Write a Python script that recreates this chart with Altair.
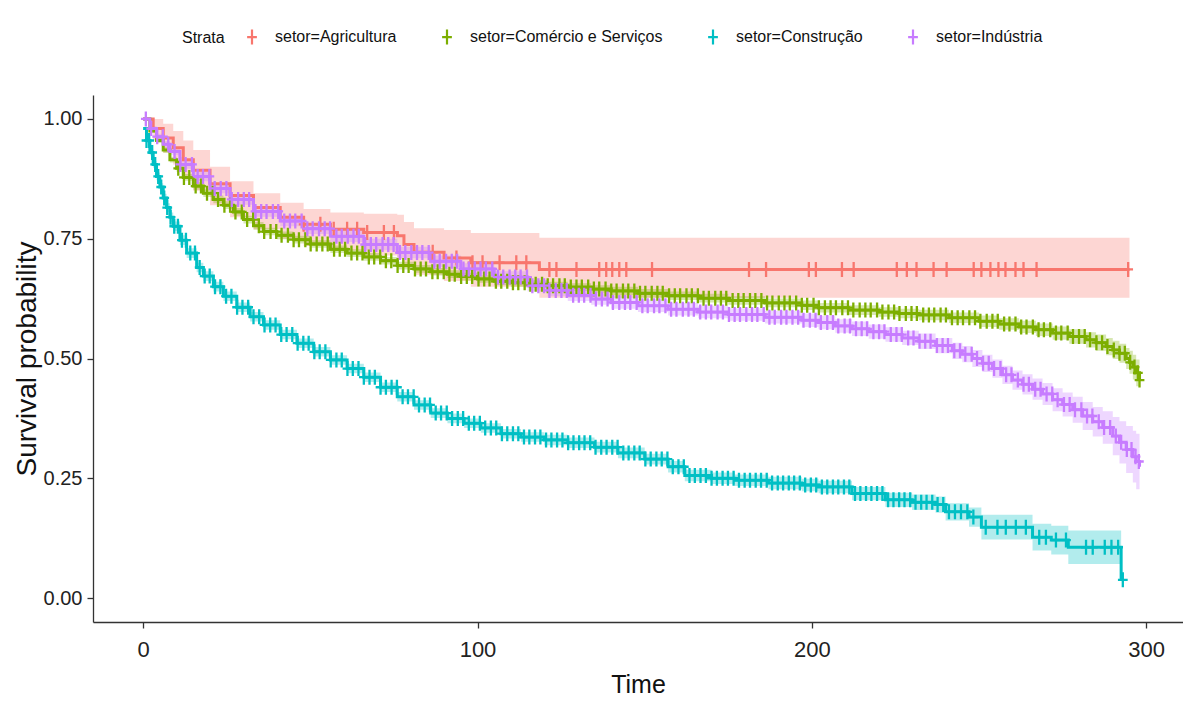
import altair as alt
import pandas as pd
import numpy as np

NAMES = ["setor=Agricultura", "setor=Comércio e Serviços", "setor=Construção", "setor=Indústria"]
COLORS = ["#F8766D", "#7CAE00", "#00BFC4", "#C77CFF"]

X_TICKS = [0, 100, 200, 300]
Y_TICKS = [0.0, 0.25, 0.5, 0.75, 1.0]

# --- Agricultura (red) ---
agri_t = [0, 3, 6, 9, 12, 15, 20, 26, 33, 41, 48, 56, 66, 76, 78, 81, 90, 98, 118.5, 295]
agri_s = [1.0, 0.98, 0.96, 0.94, 0.915, 0.893, 0.865, 0.84, 0.815, 0.795, 0.78, 0.77, 0.763, 0.756, 0.738, 0.722, 0.71, 0.70, 0.686, 0.686]
agri_hi = [1.0, 1.0, 0.99, 0.975, 0.955, 0.935, 0.9, 0.87, 0.845, 0.825, 0.812, 0.805, 0.802, 0.80, 0.785, 0.772, 0.768, 0.762, 0.752, 0.752]
agri_lo = [1.0, 0.955, 0.93, 0.905, 0.875, 0.85, 0.82, 0.795, 0.77, 0.75, 0.735, 0.725, 0.715, 0.707, 0.69, 0.675, 0.662, 0.65, 0.627, 0.627]
agri_cens = [48, 53, 57, 61, 64, 67, 72, 75, 86.6, 93.7, 98.5, 101.5, 106.6, 111.6, 114.6, 121.5, 123.6,
             129.6, 136.4, 138.5, 140.3, 142.4, 144.5, 152.2, 181.2, 186.3, 199.1, 201.2, 209, 212.5, 225.4,
             228.4, 231.3, 236.4, 240.3, 248.4, 250.7, 253.4, 255.8, 257.9, 260.9, 263.3, 267.2, 294.6]

# --- Comércio e Serviços (green) ---
com_t = [0, 2, 4, 6, 8, 10, 12, 15, 18, 21, 24, 27, 30, 33, 36, 40, 45, 50, 56, 61, 66, 71, 76, 81, 86, 91,
         95, 100, 105, 110, 115, 121, 127, 134, 140, 148, 157, 166, 175, 186, 197, 202, 211, 220, 226, 232,
         241, 250, 256, 262, 267, 272, 277, 282, 285, 288, 290, 292, 294, 295, 296, 297, 298]
com_s = [1.0, 0.975, 0.955, 0.935, 0.915, 0.897, 0.878, 0.86, 0.845, 0.832, 0.82, 0.806, 0.79, 0.777, 0.765,
         0.757, 0.748, 0.739, 0.728, 0.72, 0.712, 0.704, 0.694, 0.687, 0.681, 0.676, 0.671, 0.666, 0.661, 0.658,
         0.655, 0.652, 0.649, 0.645, 0.641, 0.636, 0.631, 0.626, 0.621, 0.616, 0.611, 0.606, 0.601, 0.597,
         0.594, 0.591, 0.585, 0.578, 0.572, 0.566, 0.56, 0.553, 0.546, 0.539, 0.533, 0.525, 0.518, 0.511, 0.5,
         0.492, 0.482, 0.47, 0.455]
com_ci = [0, 0.004, 0.005, 0.006, 0.006, 0.007, 0.007, 0.008, 0.008, 0.008, 0.008, 0.008, 0.008, 0.008, 0.008,
          0.008, 0.008, 0.008, 0.008, 0.008, 0.008, 0.008, 0.008, 0.008, 0.008, 0.008, 0.008, 0.008, 0.008, 0.008,
          0.008, 0.008, 0.008, 0.008, 0.009, 0.009, 0.009, 0.009, 0.009, 0.009, 0.01, 0.01, 0.01, 0.01, 0.01,
          0.011, 0.011, 0.012, 0.012, 0.013, 0.013, 0.014, 0.015, 0.016, 0.017, 0.018, 0.019, 0.02, 0.022, 0.024,
          0.026, 0.028, 0.03]
com_cens = [10.5, 12.2, 13.8, 15.7, 17.3, 19.1, 20.8, 22.4, 24.3, 26, 27.6, 29.5, 31.1, 32.9, 34.6, 36.2, 38.1,
            39.8, 41.4, 43.3, 45, 46.6, 48.5, 50.1, 51.9, 53.6, 55.2, 57.1, 58.8, 60.4, 62.3, 64, 65.6, 67.5,
            69.1, 70.9, 72.6, 74.2, 76.1, 77.8, 79.4, 81.3, 83, 84.6, 86.5, 88.1, 89.9, 91.6, 93.2, 95.1, 96.8,
            98.4, 100.3, 102, 103.6, 105.5, 107.1, 108.9, 110.6, 112.2, 114.1, 115.8, 117.4, 119.3, 121, 122.6,
            124.5, 126.1, 127.9, 129.6, 131.2, 133.1, 134.8, 136.4, 138.3, 140, 141.6, 143.5, 145.1, 146.9,
            148.6, 150.2, 152.1, 153.8, 155.4, 157.3, 159, 160.6, 162.5, 164.1, 165.9, 167.6, 169.2, 171.1,
            172.8, 174.4, 176.3, 178, 179.6, 181.5, 183.1, 184.9, 186.6, 188.2, 190.1, 191.8, 193.4, 195.3, 197,
            198.6, 200.5, 202.1, 203.9, 205.6, 207.2, 209.1, 210.8, 212.4, 214.3, 216, 217.6, 219.5, 221.1,
            222.9, 224.6, 226.2, 228.1, 229.8, 231.4, 233.3, 235, 236.6, 238.5, 240.1, 241.9, 243.6, 245.2,
            247.1, 248.8, 250.4, 252.3, 254, 255.6, 257.5, 259.1, 260.9, 262.6, 264.2, 266.1, 267.8, 269.4,
            271.3, 273, 274.6, 276.5, 278.1, 279.9, 281.6, 283.2, 285.1, 286.8, 288.4, 290.3, 292, 293.6, 295.2,
            296.5, 297.5, 298]

# --- Construção (cyan) ---
con_t = [0, 1, 2, 3, 4, 5, 6, 7, 8, 9, 11, 13, 16, 18, 21, 24, 28, 32, 36, 41, 46, 51, 56, 61, 66, 71, 76, 81,
         86, 91, 96, 101, 107, 113, 120, 127, 135, 142, 150, 157, 162, 170, 177, 187, 197, 202, 212, 222, 230,
         237, 240, 247, 250.7, 266, 271.6, 276.7, 292.5]
con_s = [0.98, 0.955, 0.93, 0.905, 0.88, 0.858, 0.835, 0.815, 0.795, 0.776, 0.747, 0.72, 0.69, 0.672, 0.65,
         0.63, 0.607, 0.587, 0.57, 0.55, 0.532, 0.514, 0.497, 0.479, 0.461, 0.44, 0.42, 0.403, 0.386, 0.375,
         0.365, 0.355, 0.343, 0.336, 0.33, 0.324, 0.315, 0.303, 0.29, 0.274, 0.256, 0.25, 0.246, 0.24, 0.236,
         0.232, 0.218, 0.205, 0.2, 0.195, 0.18, 0.169, 0.148, 0.127, 0.121, 0.106, 0.038]
con_ci = [0.003, 0.005, 0.006, 0.007, 0.008, 0.008, 0.009, 0.009, 0.01, 0.01, 0.01, 0.01, 0.01, 0.01, 0.01,
          0.01, 0.01, 0.01, 0.01, 0.01, 0.01, 0.01, 0.01, 0.01, 0.01, 0.01, 0.01, 0.01, 0.01, 0.01, 0.01, 0.01,
          0.01, 0.01, 0.011, 0.011, 0.011, 0.011, 0.011, 0.012, 0.012, 0.012, 0.012, 0.013, 0.013, 0.013, 0.014,
          0.015, 0.016, 0.017, 0.018, 0.02, 0.026, 0.028, 0.03, 0.035, 0.0]
con_cens = [1, 1.8, 2.7, 3.6, 4.5, 5.4, 6.3, 7.2, 8.2, 9.3, 10.4, 11.6, 12.8, 14.1, 15.5, 16.9, 18.4, 19.9, 21.5,
            23.1, 24.8, 26.4, 28.1, 29.7, 31.4, 33, 34.7, 36.3, 38, 39.6, 41.3, 42.9, 44.6, 46.2, 47.9, 49.5,
            51.2, 52.8, 54.5, 56.1, 57.8, 59.4, 61.1, 62.7, 64.4, 66, 67.7, 69.3, 71, 72.6, 74.3, 75.9, 77.6,
            79.2, 80.9, 82.5, 84.2, 85.8, 87.5, 89.1, 90.8, 92.4, 94.1, 95.7, 97.4, 99, 100.7, 102.3, 104, 105.6,
            107.3, 108.9, 110.6, 112.2, 113.9, 115.5, 117.2, 118.8, 120.5, 122.1, 123.8, 125.4, 127.1, 128.7,
            130.4, 132, 133.7, 135.3, 137, 138.6, 140.3, 141.9, 143.6, 145.2, 146.9, 148.5, 150.2, 151.8, 153.5,
            155.1, 156.8, 158.4, 160.1, 161.7, 163.4, 165, 166.7, 168.3, 170, 171.6, 173.3, 174.9, 176.6, 178.2,
            179.9, 181.5, 183.2, 184.8, 186.5, 188.1, 189.8, 191.4, 193.1, 194.7, 196.4, 198, 199.7, 201.3, 203,
            204.6, 206.3, 207.9, 209.6, 211.2, 212.9, 214.5, 216.2, 217.8, 219.5, 221.1, 222.8, 224.4, 226.1,
            227.7, 229.4, 231, 232.7, 234.3, 236, 237.6, 239.3, 241, 242.8, 244.6, 246.5, 248.3, 252, 255.5, 258,
            261, 264, 268, 270, 273, 276, 282, 284, 287.6, 289.6, 291.6, 293]

# --- Indústria (purple) ---
ind_t = [0, 2, 4, 6, 8, 11, 15, 20, 26, 33, 41, 48, 56, 66, 76, 86, 95, 105, 115, 121, 127, 134, 140, 148, 157,
         166, 175, 186, 197, 202, 207, 212, 217, 222, 227, 232, 237, 242, 245, 248, 251, 254, 257, 260, 263,
         266, 269, 272, 275, 278, 281, 284, 287, 290, 292, 294, 296, 297, 298]
ind_s = [1.0, 0.98, 0.963, 0.947, 0.932, 0.905, 0.88, 0.855, 0.832, 0.807, 0.787, 0.771, 0.755, 0.738, 0.721,
         0.703, 0.687, 0.67, 0.652, 0.642, 0.632, 0.624, 0.617, 0.61, 0.603, 0.597, 0.592, 0.586, 0.58, 0.575,
         0.568, 0.562, 0.556, 0.55, 0.543, 0.536, 0.527, 0.516, 0.509, 0.5, 0.49, 0.479, 0.466, 0.455, 0.446,
         0.436, 0.426, 0.414, 0.404, 0.393, 0.38, 0.368, 0.356, 0.338, 0.325, 0.31, 0.295, 0.285, 0.274]
ind_ci = [0, 0.005, 0.006, 0.007, 0.008, 0.009, 0.01, 0.01, 0.011, 0.011, 0.011, 0.011, 0.012, 0.012, 0.012,
          0.012, 0.012, 0.012, 0.012, 0.012, 0.012, 0.012, 0.013, 0.013, 0.013, 0.013, 0.013, 0.013, 0.014, 0.014,
          0.014, 0.015, 0.015, 0.015, 0.015, 0.016, 0.016, 0.017, 0.017, 0.018, 0.018, 0.019, 0.019, 0.02, 0.021,
          0.022, 0.023, 0.024, 0.025, 0.027, 0.029, 0.031, 0.034, 0.04, 0.044, 0.049, 0.054, 0.058, 0.065]
ind_cens = [0.8, 2.4, 4.2, 5.9, 7.5, 9.4, 11.1, 12.7, 14.6, 16.3, 17.9, 19.8, 21.4, 23.2, 24.9, 26.5, 28.4, 30.1,
            31.7, 33.6, 35.3, 36.9, 38.8, 40.4, 42.2, 43.9, 45.5, 47.4, 49.1, 50.7, 52.6, 54.3, 55.9, 57.8, 59.4,
            61.2, 62.9, 64.5, 66.4, 68.1, 69.7, 71.6, 73.3, 74.9, 76.8, 78.4, 80.2, 81.9, 83.5, 85.4, 87.1, 88.7,
            90.6, 92.3, 93.9, 95.8, 97.4, 99.2, 100.9, 102.5, 104.4, 106.1, 107.7, 109.6, 111.3, 112.9, 114.8,
            116.4, 118.2, 119.9, 121.5, 123.4, 125.1, 126.7, 128.6, 130.3, 131.9, 133.8, 135.4, 137.2, 138.9,
            140.5, 142.4, 144.1, 145.7, 147.6, 149.3, 150.9, 152.8, 154.4, 156.2, 157.9, 159.5, 161.4, 163.1,
            164.7, 166.6, 168.3, 169.9, 171.8, 173.4, 175.2, 176.9, 178.5, 180.4, 182.1, 183.7, 185.6, 187.3,
            188.9, 190.8, 192.4, 194.2, 195.9, 197.5, 199.4, 201.1, 202.7, 204.6, 206.3, 207.9, 209.8, 211.4,
            213.2, 214.9, 216.5, 218.4, 220.1, 221.7, 223.6, 225.3, 226.9, 228.8, 230.4, 232.2, 233.9, 235.5,
            237.4, 239.1, 240.7, 242.6, 244.3, 245.9, 247.8, 249.4, 251.2, 252.9, 254.5, 256.4, 258.1, 259.7,
            261.6, 263.3, 264.9, 266.8, 268.4, 270.2, 271.9, 273.5, 275.4, 277.1, 278.7, 280.6, 282.3, 283.9,
            285.8, 287.4, 289.2, 290.9, 292.5, 294.2, 295.6, 296.8, 297.8]

# ---- build tables ----
curve_rows = []
cens_rows = []


def add_series(name, t, s, lo, hi, cens):
    for ti, si, li, hi_ in zip(t, s, lo, hi):
        curve_rows.append({"strata": name, "time": ti, "surv": si, "lo": li, "hi": hi_})
    t_arr = np.array(t, dtype=float)
    for c in cens:
        idx = int(np.searchsorted(t_arr, c, side="right")) - 1
        cens_rows.append({"strata": name, "time": c, "surv": s[idx]})


add_series(NAMES[0], agri_t, agri_s, agri_lo, agri_hi, agri_cens)
for name, t, s, ci, cens in [
    (NAMES[1], com_t, com_s, com_ci, com_cens),
    (NAMES[2], con_t, con_s, con_ci, con_cens),
    (NAMES[3], ind_t, ind_s, ind_ci, ind_cens),
]:
    lo = [max(a - b, 0.0) for a, b in zip(s, ci)]
    hi = [min(a + b, 1.0) for a, b in zip(s, ci)]
    add_series(name, t, s, lo, hi, cens)

curves = pd.DataFrame(curve_rows)
cens_df = pd.DataFrame(cens_rows)

FONT = "Liberation Sans, Arial, sans-serif"
PLUS = "M-0.65,0H0.65M0,-1V1"

xscale = alt.Scale(domain=[-15, 311], nice=False, zero=False)
yscale = alt.Scale(domain=[-0.05, 1.05], nice=False, zero=False)

xaxis = alt.Axis(values=X_TICKS, title="Time", grid=False, labelFont=FONT, labelFontSize=22,
                 titleFont=FONT, titleFontSize=25, titleFontWeight="normal", titlePadding=12,
                 labelPadding=11, tickSize=6)
yaxis = alt.Axis(values=Y_TICKS, format=".2f", title="Survival probability", grid=False,
                 labelFont=FONT, labelFontSize=20, titleFont=FONT, titleFontSize=28,
                 titleFontWeight="normal", titleX=-58, titleBaseline="alphabetic",
                 labelPadding=5, tickSize=6)

color = alt.Color(
    "strata:N",
    scale=alt.Scale(domain=NAMES, range=COLORS),
    legend=alt.Legend(
        title="Strata", orient="none", legendX=89, legendY=-67, direction="horizontal",
        titleOrient="left", titleFont=FONT, titleFontSize=16, titleFontWeight="normal",
        titleColor="#111", titlePadding=18, titleBaseline="middle",
        labelFont=FONT, labelFontSize=16, labelColor="#111", labelOffset=14, labelLimit=0,
        symbolType=PLUS, symbolSize=225, symbolStrokeWidth=2.2, columnPadding=40,
        symbolFillColor="transparent", symbolOpacity=1,
    ),
)

band = alt.Chart(curves).mark_area(interpolate="step-after", opacity=0.3).encode(
    x=alt.X("time:Q", scale=xscale, axis=xaxis),
    y=alt.Y("lo:Q", scale=yscale, axis=yaxis),
    y2="hi:Q",
    color=color,
)

line = alt.Chart(curves).mark_line(interpolate="step-after", strokeWidth=3).encode(
    x=alt.X("time:Q", scale=xscale, axis=xaxis),
    y=alt.Y("surv:Q", scale=yscale, axis=yaxis),
    color=color,
)

cens = alt.Chart(cens_df).mark_point(shape=PLUS, size=225, strokeWidth=2.3, filled=False, opacity=1).encode(
    x=alt.X("time:Q", scale=xscale, axis=xaxis),
    y=alt.Y("surv:Q", scale=yscale, axis=yaxis),
    color=color,
)

chart = alt.layer(band, line, cens).properties(
    width=1090, height=527,
    padding={"left": 85, "top": 87, "right": 0, "bottom": 74},
    autosize=alt.AutoSizeParams(type="none"),
).configure_view(stroke=None).configure_axis(
    domainColor="#333333", domainWidth=1.3, tickColor="#333333", tickWidth=1.3,
    labelColor="#222222", titleColor="#111111",
)

chart.save("out.html", embed_options={"renderer": "svg", "actions": False})
